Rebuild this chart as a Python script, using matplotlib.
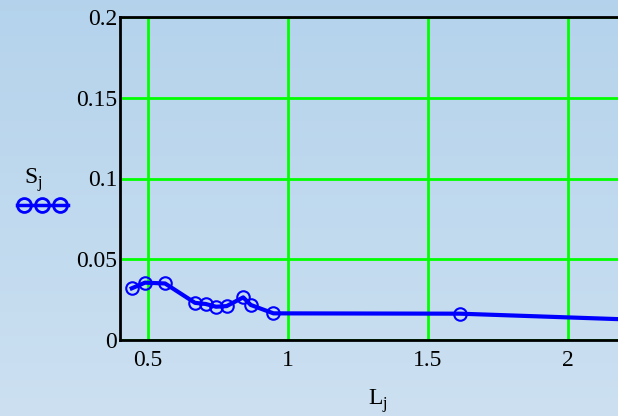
import numpy as np
import matplotlib
matplotlib.use("Agg")
import matplotlib.pyplot as plt

L = [0.442, 0.489, 0.561, 0.668, 0.706, 0.743, 0.781, 0.840, 0.867, 0.948, 1.614, 2.25]
S = [0.0320, 0.0355, 0.0350, 0.0230, 0.0223, 0.0206, 0.0210, 0.0264, 0.0217, 0.0165, 0.0163, 0.0125]
xticks = [0.5, 1, 1.5, 2]
yticks = [0, 0.05, 0.1, 0.15, 0.2]
ytick_labels = ["0", "0.05", "0.1", "0.15", "0.2"]

W, H = 618, 416
fig = plt.figure(figsize=(W / 100, H / 100), dpi=100)

# background gradient
bg = fig.add_axes([0, 0, 1, 1], zorder=-10)
grad = np.linspace(0, 1, 256).reshape(-1, 1)
top = np.array([0.706, 0.827, 0.925])
bot = np.array([0.800, 0.878, 0.945])
img = top[None, None, :] * (1 - grad[:, :, None]) + bot[None, None, :] * grad[:, :, None]
bg.imshow(img, aspect="auto", extent=[0, 1, 0, 1])
bg.axis("off")

left, right = 120, 618
topp, bottom = 17, 340
ax = fig.add_axes([left / W, 1 - bottom / H, (right - left) / W, (bottom - topp) / H])
ax.patch.set_alpha(0)
ax.set_xlim(0.4, 0.4 + (right - left) / 280)
ax.set_ylim(0, 0.2)
ax.set_xticks(xticks)
ax.set_xticklabels([f"{t:g}" for t in xticks])
ax.set_yticks(yticks)
ax.set_yticklabels(ytick_labels)
ax.grid(True, color="#00ff00", linewidth=2)
ax.tick_params(length=0, labelsize=17)
for lab in ax.get_xticklabels() + ax.get_yticklabels():
    lab.set_family("Liberation Serif")
ax.tick_params(axis="y", pad=2)
ax.tick_params(axis="x", pad=7)
for s in ["left", "bottom", "top"]:
    ax.spines[s].set_linewidth(2)
    ax.spines[s].set_color("black")
ax.spines["right"].set_visible(False)

ax.plot(L, S, color="#0000ff", linewidth=3, marker="o", markersize=9,
        markerfacecolor="none", markeredgecolor="#0000ff", markeredgewidth=1.5,
        clip_on=True, zorder=5)

# labels
fig.text(33 / W, 1 - 180 / H, r"S$_\mathregular{j}$", fontsize=17, family="Liberation Serif",
         ha="center", va="center")
fig.text(378 / W, 1 - 401 / H, r"L$_\mathregular{j}$", fontsize=17, family="Liberation Serif",
         ha="center", va="center")
leg = fig.add_axes([0, 0, 1, 1], zorder=5)
leg.set_xlim(0, W)
leg.set_ylim(H, 0)
leg.axis("off")
leg.plot([17, 68], [205, 205], color="#0000ff", linewidth=2.5)
leg.plot([24, 42, 60], [205, 205, 205], linestyle="none", marker="o", markersize=10,
         markerfacecolor="none", markeredgecolor="#0000ff", markeredgewidth=2)

fig.savefig("out.png", dpi=100)
